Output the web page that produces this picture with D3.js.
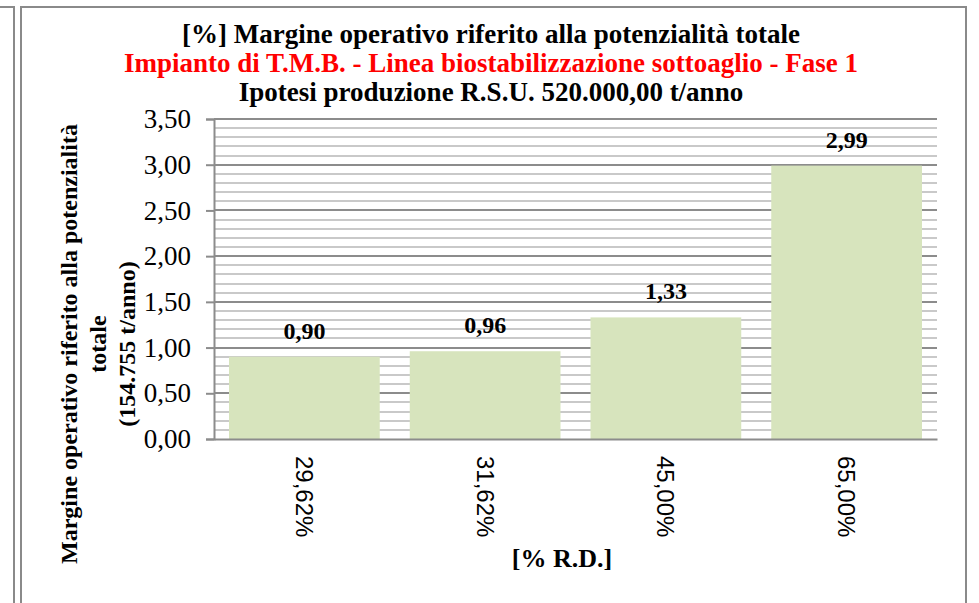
<!DOCTYPE html>
<html>
<head>
<meta charset="utf-8">
<script src="https://cdn.jsdelivr.net/npm/d3@7"></script>
<style>
  body { margin: 0; background: #fff; }
  svg { display: block; }
</style>
</head>
<body>
<svg id="chart"></svg>
<script>
const width = 979;
const height = 603;

// data
const categories = ['29,62%', '31,62%', '45,00%', '65,00%'];
const values = [0.90, 0.96, 1.33, 2.99];
const yTicks = [0, 0.5, 1, 1.5, 2, 2.5, 3, 3.5];
const titleLines = [
    '[%] Margine operativo riferito alla potenzialità totale',
    'Impianto di T.M.B. - Linea biostabilizzazione sottoaglio - Fase 1',
    'Ipotesi produzione R.S.U. 520.000,00 t/anno'
];
const yTitleLines = ['Margine operativo riferito alla potenzialità', 'totale', '(154.755 t/anno)'];
const xTitle = '[% R.D.]';

const margin = { top: 119, right: 42, bottom: 164, left: 214 };
const serif = '"Liberation Serif", "Times New Roman", serif';
const sans = '"Liberation Sans", Arial, sans-serif';

const fmt = function(v) {
    return d3.format('.2f')(v).replace('.', ',');
};

const svg = d3.select('#chart')
              .attr('width', width)
              .attr('height', height);

// frames
svg.append('path')
   .attr('d', 'M0,7H14V' + height)
   .attr('fill', 'none')
   .attr('stroke', '#8a8a8a')
   .attr('stroke-width', 2);

svg.append('rect')
   .attr('x', 21)
   .attr('y', 7)
   .attr('width', 945)
   .attr('height', height + 20)
   .attr('fill', '#fff')
   .attr('stroke', '#8a8a8a')
   .attr('stroke-width', 2);

const x = d3.scaleBand()
            .domain(categories)
            .range([margin.left, width - margin.right])
            .paddingInner(0.166)
            .paddingOuter(0.083);

const y = d3.scaleLinear()
            .domain([0, 3.5])
            .range([height - margin.bottom, margin.top]);

// minor gridlines every 0.1
const minor = d3.range(1, 35).filter(function(i) { return i % 5 !== 0; })
                .map(function(i) { return i / 10; });

svg.append('g')
   .selectAll('line')
   .data(minor)
   .join('line')
   .attr('x1', margin.left)
   .attr('x2', width - margin.right)
   .attr('y1', function(d) { return Math.round(y(d)); })
   .attr('y2', function(d) { return Math.round(y(d)); })
   .attr('stroke', '#c9c9c9')
   .attr('stroke-width', 2);

// major gridlines
svg.append('g')
   .selectAll('line')
   .data(yTicks.slice(1))
   .join('line')
   .attr('x1', margin.left)
   .attr('x2', width - margin.right)
   .attr('y1', function(d) { return Math.round(y(d)); })
   .attr('y2', function(d) { return Math.round(y(d)); })
   .attr('stroke', '#8c8c8c')
   .attr('stroke-width', 2);

// bars
svg.append('g')
   .selectAll('rect')
   .data(values)
   .join('rect')
   .attr('x', function(d, i) { return x(categories[i]); })
   .attr('width', x.bandwidth())
   .attr('y', function(d) { return y(d); })
   .attr('height', function(d) { return y(0) - y(d); })
   .attr('fill', '#d7e4bd');

// data labels
svg.append('g')
   .selectAll('text')
   .data(values)
   .join('text')
   .attr('x', function(d, i) { return x(categories[i]) + x.bandwidth() / 2; })
   .attr('y', function(d) { return y(d) - 18; })
   .attr('text-anchor', 'middle')
   .attr('font-family', serif)
   .attr('font-weight', 'bold')
   .attr('font-size', 24)
   .text(fmt);

// y axis
const yAxis = svg.append('g')
                 .attr('transform', 'translate(' + margin.left + ',0)')
                 .call(d3.axisLeft(y).tickValues(yTicks).tickSize(8).tickPadding(15).tickFormat(fmt));

yAxis.select('.domain').attr('stroke', '#8c8c8c').attr('stroke-width', 2);
yAxis.selectAll('.tick line').attr('stroke', '#8c8c8c').attr('stroke-width', 2);
yAxis.selectAll('.tick text')
     .attr('font-family', serif)
     .attr('font-size', 27)
     .attr('fill', '#000');

// x axis
const xAxis = svg.append('g')
                 .attr('transform', 'translate(0,' + y(0) + ')')
                 .call(d3.axisBottom(x).tickSize(0).tickPadding(0));

xAxis.select('.domain').attr('stroke', '#8c8c8c').attr('stroke-width', 2);
xAxis.selectAll('.tick text')
     .attr('font-family', sans)
     .attr('font-size', 24)
     .attr('fill', '#000')
     .attr('text-anchor', 'start')
     .attr('dy', '0.35em')
     .attr('transform', 'translate(0,17) rotate(90)');

// titles
svg.append('g')
   .selectAll('text')
   .data(titleLines)
   .join('text')
   .attr('x', 491)
   .attr('y', function(d, i) { return 43 + i * 29; })
   .attr('text-anchor', 'middle')
   .attr('font-family', serif)
   .attr('font-weight', 'bold')
   .attr('font-size', 27)
   .attr('fill', function(d, i) { return i === 1 ? '#ff0000' : '#000'; })
   .text(function(d) { return d; });

// y axis title
svg.append('text')
   .attr('transform', 'translate(77,344) rotate(-90)')
   .attr('text-anchor', 'middle')
   .attr('font-family', serif)
   .attr('font-weight', 'bold')
   .attr('font-size', 24)
   .selectAll('tspan')
   .data(yTitleLines)
   .join('tspan')
   .attr('x', 0)
   .attr('y', function(d, i) { return i * 29; })
   .text(function(d) { return d; });

// x axis title
svg.append('text')
   .attr('x', 562)
   .attr('y', 567)
   .attr('text-anchor', 'middle')
   .attr('font-family', serif)
   .attr('font-weight', 'bold')
   .attr('font-size', 26)
   .text(xTitle);
</script>
</body>
</html>
